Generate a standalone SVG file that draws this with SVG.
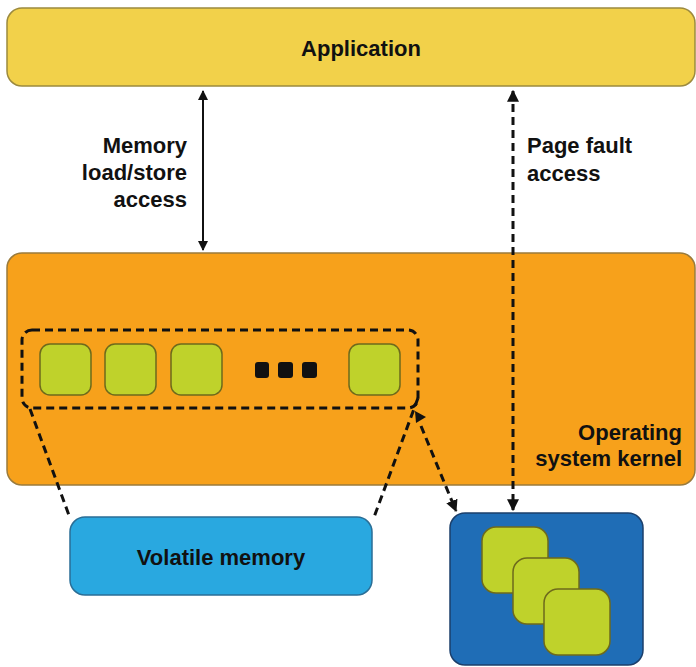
<svg xmlns="http://www.w3.org/2000/svg" width="696" height="667" viewBox="0 0 696 667">
<style>
.t{font-family:"Liberation Sans",Arial,sans-serif;font-weight:bold;font-size:22px;fill:#111}
.g{fill:#bfd22b;stroke:#6e6a1c;stroke-width:1.5}
.d{fill:none;stroke:#111;stroke-width:3;stroke-dasharray:8 5}
.s{fill:none;stroke:#111;stroke-width:2}
</style>
<defs>
<marker id="ah" viewBox="0 0 10 10" refX="9" refY="5" markerWidth="10" markerHeight="10" markerUnits="userSpaceOnUse" orient="auto-start-reverse">
<path d="M0,0 L10,5 L0,10 Z" fill="#111"/>
</marker>
<marker id="ahd" viewBox="0 0 10 10" refX="9" refY="5" markerWidth="12" markerHeight="12" markerUnits="userSpaceOnUse" orient="auto-start-reverse">
<path d="M0,0 L10,5 L0,10 Z" fill="#111"/>
</marker>
</defs>
<rect width="696" height="667" fill="#ffffff"/>
<g id="application">
<rect x="7" y="8" width="688" height="78" rx="15" fill="#f2d14a" stroke="#9c8a3e" stroke-width="1.5"/>
<text class="t" x="361" y="56" text-anchor="middle">Application</text>
</g>
<g id="kernel">
<rect x="7" y="253" width="688" height="232" rx="15" fill="#f7a11b" stroke="#9a7b3c" stroke-width="1.5"/>
<text class="t" x="682" y="440" text-anchor="end">Operating</text>
<text class="t" x="682" y="466" text-anchor="end">system kernel</text>
</g>
<g id="pages">
<rect class="g" x="40" y="344" width="51" height="51" rx="10"/>
<rect class="g" x="105" y="344" width="51" height="51" rx="10"/>
<rect class="g" x="171" y="344" width="51" height="51" rx="10"/>
<rect x="255" y="362" width="14" height="16" rx="3" fill="#111"/>
<rect x="278" y="362" width="15" height="16" rx="3" fill="#111"/>
<rect x="302" y="362" width="15" height="16" rx="3" fill="#111"/>
<rect class="g" x="349" y="344" width="51" height="51" rx="10"/>
<rect class="d" x="22" y="330" width="396" height="78" rx="10"/>
</g>
<g id="volatile-memory">
<rect x="70" y="517" width="302" height="78" rx="15" fill="#29a8e0" stroke="#2a6e96" stroke-width="1.5"/>
<text class="t" x="221" y="565" text-anchor="middle">Volatile memory</text>
</g>
<g id="storage">
<rect x="450" y="513" width="193" height="152" rx="15" fill="#1f6db6" stroke="#1b3f6b" stroke-width="1.5"/>
<rect class="g" x="482" y="527" width="66" height="66" rx="14"/>
<rect class="g" x="513" y="558" width="66" height="66" rx="14"/>
<rect class="g" x="544" y="589" width="66" height="66" rx="14"/>
</g>
<g id="connectors">
<line class="s" x1="203" y1="91" x2="203" y2="250" marker-start="url(#ah)" marker-end="url(#ah)"/>
<line class="d" x1="513" y1="91" x2="513" y2="510" marker-start="url(#ahd)" marker-end="url(#ahd)"/>
<line class="d" x1="30" y1="409" x2="70" y2="518"/>
<line class="d" x1="418" y1="398" x2="373" y2="520"/>
<line class="d" x1="421" y1="426" x2="456" y2="511" marker-end="url(#ahd)"/>
<path d="M415,411 L426,417 L416,423 Z" fill="#111"/>
<text class="t" x="187" y="153" text-anchor="end">Memory</text>
<text class="t" x="187" y="180" text-anchor="end">load/store</text>
<text class="t" x="187" y="207" text-anchor="end">access</text>
<text class="t" x="527" y="153">Page fault</text>
<text class="t" x="527" y="181">access</text>
</g>
</svg>
